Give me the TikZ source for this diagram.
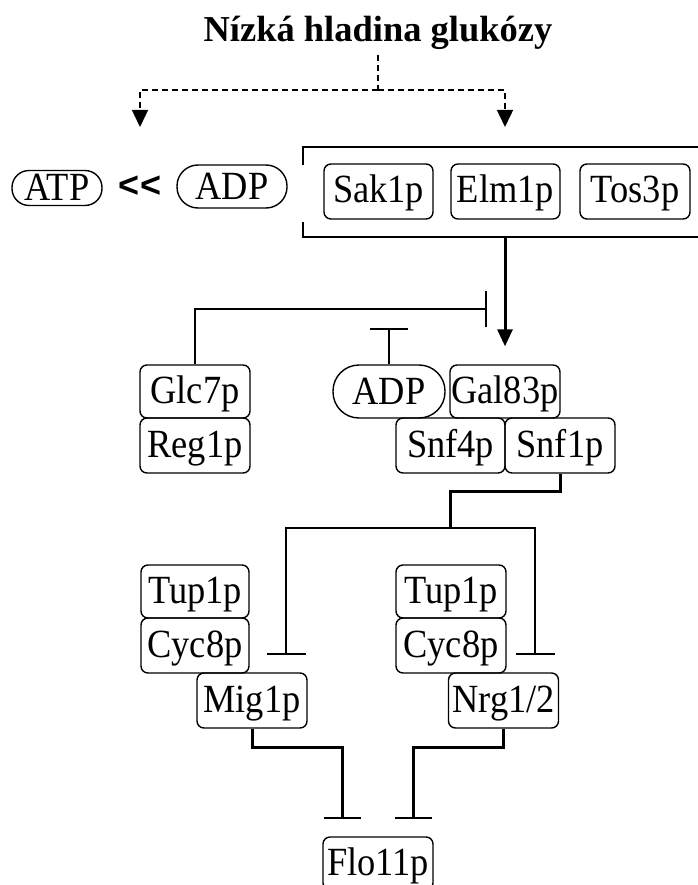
\documentclass[tikz,border=0pt]{standalone}
\usepackage{fontspec}
\setmainfont{Liberation Serif}[FakeStretch=0.91]
\newfontfamily\titlefont{Liberation Serif}
\newfontfamily\chevfont{Liberation Sans}
\usetikzlibrary{arrows.meta}
\begin{document}
\begin{tikzpicture}[x=1pt,y=-1pt,
  lbl/.style={font=\fontsize{40}{44}\selectfont, text height=28pt, text depth=5pt, inner sep=0pt},
  box/.style={lbl, draw, line width=1.4pt, rounded corners=7pt, minimum width=110pt, minimum height=54pt},
  pill/.style={lbl, draw, line width=1.4pt, minimum width=#1, text height=26pt, text depth=0pt},
  thinline/.style={line width=1.5pt},
  thickline/.style={line width=3pt},
  dline/.style={line width=1.5pt, dash pattern=on 6pt off 4pt},
  tri/.style={-{Triangle[width=16pt,length=17pt]}},
  tbar/.style={-{Bar[width=#1,line width=1.6pt]}}
]
\useasboundingbox (0,0) rectangle (697,885);

% title
\node[font=\fontsize{36.5}{40}\selectfont\titlefont\bfseries, anchor=base, inner sep=0pt] (title) at (378,42) {Nízká hladina glukózy};
\coordinate (dtop) at (378,55);
\coordinate (dmid) at (378,90);
\coordinate (aL) at (140,127);
\coordinate (aR) at (505,127);
\draw[dline] (dtop) -- (dmid);
\draw[dline,tri] (dmid) -| (aL);
\draw[dline,tri] (dmid) -| (aR);

% top row
\node[pill=90pt, minimum height=35pt, rounded corners=17pt] (atp) at (57,188) {ATP};
\node[font=\fontsize{36}{40}\selectfont\chevfont\bfseries, inner sep=0pt] (ltlt) at (140,187) {<<};
\node[pill=110pt, minimum height=43pt, rounded corners=21pt] (adpa) at (232,186.5) {ADP};
\node[box, minimum width=109pt, minimum height=55pt] (sak) at (378.5,191.5) {Sak1p};
\node[box, minimum width=109pt, minimum height=55pt] (elm) at (505.5,191.5) {Elm1p};
\node[box, minimum width=110pt, minimum height=55pt] (tos) at (635,191.5) {Tos3p};

% bracket
\draw[thinline] (303,165) -- (303,147) -- (705,147);
\draw[thinline] (303,222) -- (303,237) -- (705,237);
\coordinate (brb) at (505,237);

% middle group
\node[box, minimum height=53pt] (glc) at (195,391.5) {Glc7p};
\node[box, minimum height=55pt] (reg) at (195,445.5) {Reg1p};
\node[pill=112pt, minimum height=53pt, rounded corners=26pt] (adpb) at (389,391.5) {ADP};
\node[box, minimum height=53pt] (gal) at (505,391.5) {Gal83p};
\node[box, minimum width=109pt, minimum height=55pt] (snfiv) at (450.5,445.5) {Snf4p};
\node[box, minimum height=55pt] (snfi) at (560,445.5) {Snf1p};

\draw[thickline, -{Triangle[width=15pt,length=17pt]}, shorten >=18pt] (brb) -- (gal.north);
\coordinate (inhA) at (487,309);
\draw[thinline, tbar=36pt] (glc.north) |- (inhA);
\coordinate (inhB) at (389,328);
\draw[thinline, tbar=38pt] (adpb.north) -- (inhB);

% lower group
\node[box, minimum width=108pt, minimum height=53pt] (tupa) at (195,591.5) {Tup1p};
\node[box, minimum width=108pt, minimum height=55pt] (cyca) at (195,645.5) {Cyc8p};
\node[box, minimum height=55pt] (mig) at (252,700.5) {Mig1p};
\node[box, minimum width=110pt, minimum height=53pt] (tupb) at (451,591.5) {Tup1p};
\node[box, minimum width=110pt, minimum height=55pt] (cycb) at (451,645.5) {Cyc8p};
\node[box, minimum height=55pt] (nrg) at (503.5,700.5) {Nrg1/2};
\node[box, minimum height=53pt] (flo) at (378,863.5) {Flo11p};

\coordinate (jn) at (450,528);
\draw[thickline] (snfi.south) -- ++(0,18) -| (jn);
\coordinate (tL) at (286,655);
\coordinate (tR) at (535,655);
\draw[thinline, tbar=39pt] (jn) -| (tL);
\draw[thinline, tbar=39pt] (jn) -| (tR);

\coordinate (fL) at (342,819);
\coordinate (fR) at (413,819);
\draw[thickline, tbar=37pt] (mig.south) -- ++(0,19) -| (fL);
\draw[thickline, tbar=37pt] (nrg.south) -- ++(0,19) -| (fR);
\end{tikzpicture}
\end{document}
